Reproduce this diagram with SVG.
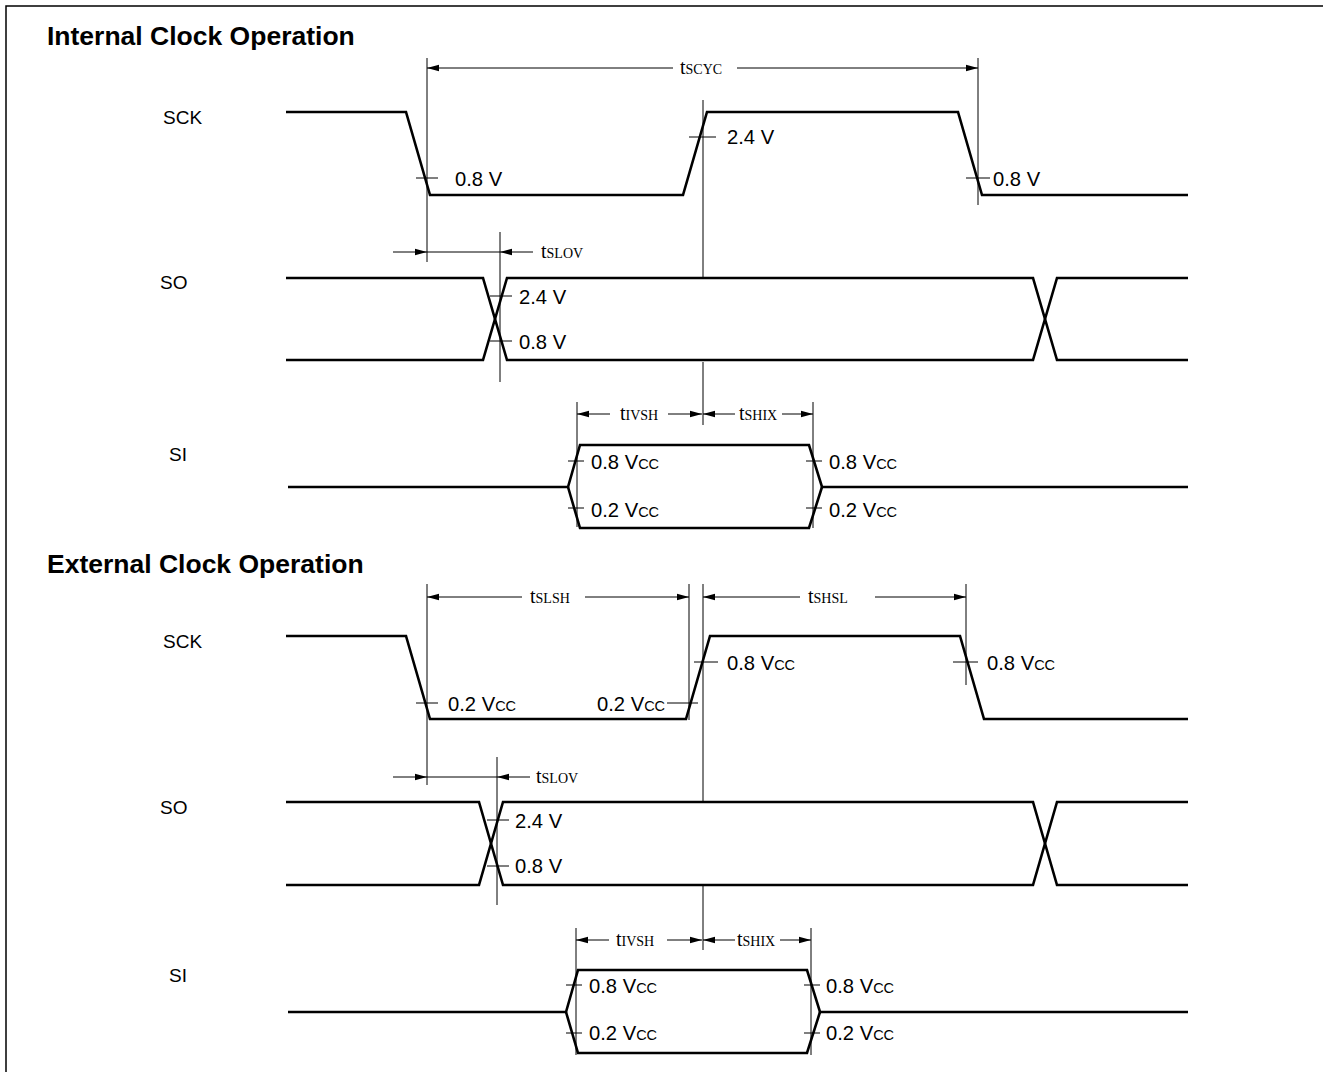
<svg xmlns="http://www.w3.org/2000/svg" width="1323" height="1072" viewBox="0 0 1323 1072">
<style>
.bg{fill:#fff}
.frame{stroke:#000;stroke-width:1.5;fill:none}
.wave{stroke:#000;stroke-width:2.6;fill:none;stroke-linejoin:miter}
.thin{stroke:#000;stroke-width:1;fill:none}
.dim{stroke:#000;stroke-width:1;fill:none;marker-end:url(#ah)}
.title{font-family:"Liberation Sans",Arial,sans-serif;font-weight:bold;font-size:26.5px;fill:#000}
.sig{font-family:"Liberation Sans",Arial,sans-serif;font-size:19px;fill:#000}
.lv{font-family:"Liberation Sans",Arial,sans-serif;font-size:20.2px;fill:#000}
.sub{font-size:14.5px}
.tl{font-family:"Liberation Serif","Times New Roman",serif;font-size:20px;fill:#000}
.ts{font-size:14px}
</style>
<defs>
<marker id="ah" viewBox="0 0 12 8" refX="12" refY="4" markerWidth="12" markerHeight="8" markerUnits="userSpaceOnUse" orient="auto">
<path d="M0,0.8 L12,4 L0,7.2 Z" fill="#000"/>
</marker>
</defs>
<rect class="bg" x="0" y="0" width="1323" height="1072"/>
<g id="frame">
<path class="frame" d="M6,1072 V6 H1323"/>
</g>

<g id="internal">
<text class="title" x="47" y="45">Internal Clock Operation</text>
<g id="int-labels">
<text class="sig" x="163" y="124">SCK</text>
<text class="sig" x="160" y="289">SO</text>
<text class="sig" x="169" y="461">SI</text>
</g>
<g id="int-sck">
<path class="wave" d="M286,112 H406 L430,195 H683 L707,112 H958 L982,195 H1188"/>
</g>
<g id="int-so">
<path class="wave" d="M286,278 H483 L507,360 H1033 L1057,278 H1188"/>
<path class="wave" d="M286,360 H483 L507,278 H1033 L1057,360 H1188"/>
</g>
<g id="int-si">
<path class="wave" d="M288,487 H568 L580,445 H809 L822,487 H1188"/>
<path class="wave" d="M568,487 L580,528 H809 L822,487"/>
</g>
<g id="int-connectors">
<path class="thin" d="M427,58 V262"/>
<path class="thin" d="M978,58 V205"/>
<path class="thin" d="M703,100 V278 M703,362 V425"/>
<path class="thin" d="M500,232 V382"/>
<path class="thin" d="M577,402 V527"/>
<path class="thin" d="M813,402 V528"/>
<path class="dim" d="M673,68 H427"/>
<path class="dim" d="M737,68 H978"/>
<path class="dim" d="M393,252 H427"/>
<path class="thin" d="M427,252 H500"/>
<path class="dim" d="M533,252 H500"/>
<path class="dim" d="M610,414 H577"/>
<path class="dim" d="M668,414 H702"/>
<path class="dim" d="M735,414 H703"/>
<path class="dim" d="M782,414 H813"/>
<path class="thin" d="M416,178 H438 M689,137 H716 M966,178 H990 M490,296 H512 M490,341 H512 M568,461 H584 M568,508 H584 M806,461 H822 M806,508 H822"/>
</g>
<g id="int-texts">
<text class="tl" x="680" y="74">t<tspan class="ts">SCYC</tspan></text>
<text class="tl" x="541" y="258">t<tspan class="ts">SLOV</tspan></text>
<text class="tl" x="620" y="420">t<tspan class="ts">IVSH</tspan></text>
<text class="tl" x="739" y="420">t<tspan class="ts">SHIX</tspan></text>
<text class="lv" x="455" y="186">0.8 V</text>
<text class="lv" x="727" y="144">2.4 V</text>
<text class="lv" x="993" y="186">0.8 V</text>
<text class="lv" x="519" y="304">2.4 V</text>
<text class="lv" x="519" y="349">0.8 V</text>
<text class="lv" x="591" y="469">0.8 V<tspan class="sub">CC</tspan></text>
<text class="lv" x="591" y="517">0.2 V<tspan class="sub">CC</tspan></text>
<text class="lv" x="829" y="469">0.8 V<tspan class="sub">CC</tspan></text>
<text class="lv" x="829" y="517">0.2 V<tspan class="sub">CC</tspan></text>
</g>
</g>

<g id="external">
<text class="title" x="47" y="573">External Clock Operation</text>
<g id="ext-labels">
<text class="sig" x="163" y="648">SCK</text>
<text class="sig" x="160" y="814">SO</text>
<text class="sig" x="169" y="982">SI</text>
</g>
<g id="ext-sck">
<path class="wave" d="M286,636 H406 L430,719 H686 L710,636 H960 L984,719 H1188"/>
</g>
<g id="ext-so">
<path class="wave" d="M286,802 H479 L503,885 H1033 L1057,802 H1188"/>
<path class="wave" d="M286,885 H479 L503,802 H1033 L1057,885 H1188"/>
</g>
<g id="ext-si">
<path class="wave" d="M288,1012 H566 L578,970 H807 L820,1012 H1188"/>
<path class="wave" d="M566,1012 L578,1053 H807 L820,1012"/>
</g>
<g id="ext-connectors">
<path class="thin" d="M427,584 V785"/>
<path class="thin" d="M689,584 V720"/>
<path class="thin" d="M703,584 V802 M703,886 V950"/>
<path class="thin" d="M966,584 V685"/>
<path class="thin" d="M497,757 V905"/>
<path class="thin" d="M576,928 V1055"/>
<path class="thin" d="M811,928 V1055"/>
<path class="dim" d="M522,597 H427"/>
<path class="dim" d="M585,597 H689"/>
<path class="dim" d="M800,597 H703"/>
<path class="dim" d="M875,597 H966"/>
<path class="dim" d="M393,777 H427"/>
<path class="thin" d="M427,777 H497"/>
<path class="dim" d="M530,777 H497"/>
<path class="dim" d="M609,940 H576"/>
<path class="dim" d="M667,940 H702"/>
<path class="dim" d="M735,940 H703"/>
<path class="dim" d="M780,940 H811"/>
<path class="thin" d="M416,703 H438 M667,703 H698 M694,662 H718 M953,662 H978 M487,820 H509 M487,866 H509 M566,985 H582 M566,1033 H582 M804,985 H820 M804,1033 H820"/>
</g>
<g id="ext-texts">
<text class="tl" x="530" y="603">t<tspan class="ts">SLSH</tspan></text>
<text class="tl" x="808" y="603">t<tspan class="ts">SHSL</tspan></text>
<text class="tl" x="536" y="783">t<tspan class="ts">SLOV</tspan></text>
<text class="tl" x="616" y="946">t<tspan class="ts">IVSH</tspan></text>
<text class="tl" x="737" y="946">t<tspan class="ts">SHIX</tspan></text>
<text class="lv" x="448" y="711">0.2 V<tspan class="sub">CC</tspan></text>
<text class="lv" x="597" y="711">0.2 V<tspan class="sub">CC</tspan></text>
<text class="lv" x="727" y="670">0.8 V<tspan class="sub">CC</tspan></text>
<text class="lv" x="987" y="670">0.8 V<tspan class="sub">CC</tspan></text>
<text class="lv" x="515" y="828">2.4 V</text>
<text class="lv" x="515" y="873">0.8 V</text>
<text class="lv" x="589" y="993">0.8 V<tspan class="sub">CC</tspan></text>
<text class="lv" x="589" y="1040">0.2 V<tspan class="sub">CC</tspan></text>
<text class="lv" x="826" y="993">0.8 V<tspan class="sub">CC</tspan></text>
<text class="lv" x="826" y="1040">0.2 V<tspan class="sub">CC</tspan></text>
</g>
</g>
</svg>
